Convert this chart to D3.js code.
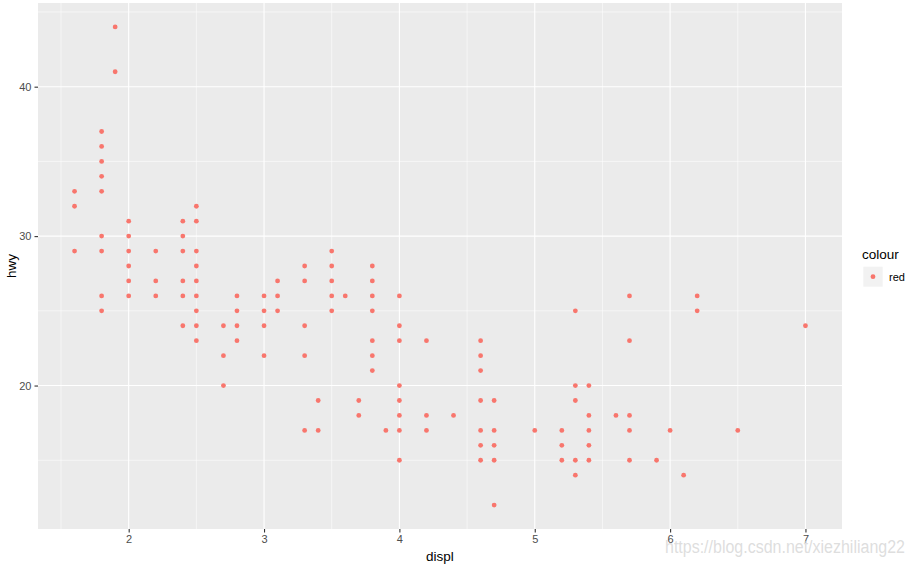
<!DOCTYPE html>
<html><head><meta charset="utf-8">
<script src="https://cdn.jsdelivr.net/npm/d3@7"></script>
<style>body{margin:0;background:#fff;}svg{display:block;font-family:"Liberation Sans",Arial,sans-serif;}</style>
</head><body>
<svg id="c" width="914" height="566"></svg>
<script>
// unique (displ, hwy) points, grouped by displ
const displValues = [1.6,1.8,1.9,2.0,2.2,2.4,2.5,2.7,2.8,3.0,3.1,3.3,3.4,3.5,3.6,3.7,3.8,3.9,4.0,4.2,4.4,4.6,4.7,5.0,5.2,5.3,5.4,5.6,5.7,5.9,6.0,6.1,6.2,6.5,7.0];
const hwyValues = [
  [33,32,29],
  [37,36,35,34,33,30,29,26,25],
  [44,41],
  [31,30,29,28,27,26],
  [29,27,26],
  [31,30,29,27,26,24],
  [32,31,29,28,27,26,25,24,23],
  [24,22,20],
  [26,25,24,23],
  [26,25,24,22],
  [27,26,25],
  [28,27,24,22,17],
  [19,17],
  [29,28,27,26,25],
  [26],
  [19,18],
  [28,27,26,25,23,22,21],
  [17],
  [26,24,23,20,19,18,17,15],
  [23,18,17],
  [18],
  [23,22,21,19,17,16,15],
  [19,17,16,15,12],
  [17],
  [17,16,15],
  [25,20,19,15,14],
  [20,18,17,16,15],
  [18],
  [26,23,18,17,15],
  [15],
  [17],
  [14],
  [26,25],
  [17],
  [24]
];
const xTicks = [2,3,4,5,6,7];
const yTicks = [20,30,40];
const xMinor = [1.5,2.5,3.5,4.5,5.5,6.5];
const yMinor = [15,25,35,45];
const legendLabels = ["red"];

const points = [];
displValues.forEach((d,i)=>hwyValues[i].forEach(h=>points.push({displ:d,hwy:h})));

const svg = d3.select("#c");
const L=38, R=842, T=3, B=529;
const xExt = d3.extent(points,d=>d.displ), yExt = d3.extent(points,d=>d.hwy);
const xPad=(xExt[1]-xExt[0])*0.05, yPad=(yExt[1]-yExt[0])*0.05;
const x = d3.scaleLinear().domain([xExt[0]-xPad,xExt[1]+xPad]).range([L,R]);
const y = d3.scaleLinear().domain([yExt[0]-yPad,yExt[1]+yPad]).range([B,T]);

svg.append("rect").attr("x",L).attr("y",T).attr("width",R-L).attr("height",B-T).attr("fill","#EBEBEB");
const g = svg.append("g");
g.selectAll(".xm").data(xMinor).join("line").attr("x1",d=>x(d)).attr("x2",d=>x(d)).attr("y1",T).attr("y2",B).attr("stroke","#fff").attr("stroke-width",0.55);
g.selectAll(".ym").data(yMinor).join("line").attr("y1",d=>y(d)).attr("y2",d=>y(d)).attr("x1",L).attr("x2",R).attr("stroke","#fff").attr("stroke-width",0.55);
g.selectAll(".xM").data(xTicks).join("line").attr("x1",d=>x(d)).attr("x2",d=>x(d)).attr("y1",T).attr("y2",B).attr("stroke","#fff").attr("stroke-width",1.1);
g.selectAll(".yM").data(yTicks).join("line").attr("y1",d=>y(d)).attr("y2",d=>y(d)).attr("x1",L).attr("x2",R).attr("stroke","#fff").attr("stroke-width",1.1);

// axes
const xAxis = svg.append("g").attr("transform",`translate(0,${B})`)
  .call(d3.axisBottom(x).tickValues(xTicks).tickSize(3.5).tickPadding(3).tickFormat(d3.format("d")));
const yAxis = svg.append("g").attr("transform",`translate(${L},0)`)
  .call(d3.axisLeft(y).tickValues(yTicks).tickSize(3.5).tickPadding(3).tickFormat(d3.format("d")));
[xAxis,yAxis].forEach(a=>{
  a.select(".domain").remove();
  a.selectAll(".tick line").attr("stroke","#333333").attr("stroke-width",1.1);
  a.selectAll(".tick text").attr("fill","#4D4D4D").style("font-size","11px").style("font-family","Liberation Sans, Arial, sans-serif");
});

// points
svg.append("g").selectAll("circle").data(points).join("circle")
  .attr("cx",d=>x(d.displ)).attr("cy",d=>y(d.hwy)).attr("r",2.4).attr("fill","#F8766D");

// axis titles
svg.append("text").attr("x",(L+R)/2).attr("y",561).attr("text-anchor","middle").attr("fill","#000").style("font-size","13.5px").text("displ");
svg.append("text").attr("transform",`translate(16,${(T+B)/2}) rotate(-90)`).attr("text-anchor","middle").attr("fill","#000").style("font-size","13.5px").text("hwy");

// legend
const lg = svg.append("g");
lg.append("text").attr("x",862).attr("y",259).attr("fill","#000").style("font-size","13.5px").text("colour");
legendLabels.forEach((lab,i)=>{
  lg.append("rect").attr("x",863.3).attr("y",266.7+i*20).attr("width",19.4).attr("height",20).attr("fill","#F2F2F2");
  lg.append("circle").attr("cx",873).attr("cy",276.7+i*20).attr("r",2.4).attr("fill","#F8766D");
  lg.append("text").attr("x",889).attr("y",280.5+i*20).attr("fill","#000").style("font-size","11px").text(lab);
});

// watermark
svg.append("text").attr("x",665).attr("y",553).attr("textLength",240).attr("lengthAdjust","spacingAndGlyphs")
  .attr("fill","#DADADA").attr("fill-opacity",0.9).style("font-size","18px").text("https://blog.csdn.net/xiezhiliang22");
</script>
</body></html>
